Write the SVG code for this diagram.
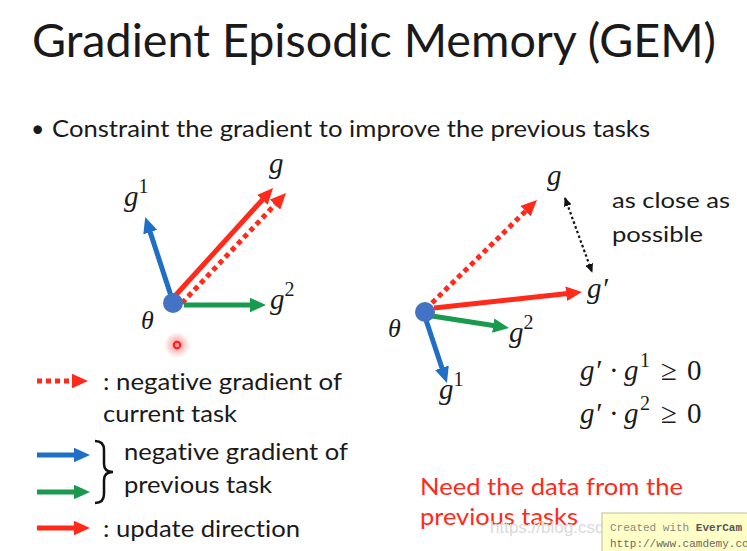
<svg xmlns="http://www.w3.org/2000/svg" width="747" height="551" viewBox="0 0 747 551">
<defs>
<style>
.sans{font-family:Lato,"Open Sans","Liberation Sans",sans-serif;fill:#1a1a1a;font-variant-ligatures:none;font-feature-settings:"liga" 0,"clig" 0}
.math{font-family:"Liberation Serif","DejaVu Serif",serif;font-style:italic;fill:#1a1a1a}
.up{font-family:"Liberation Serif","DejaVu Serif",serif;font-style:normal}
.red{stroke:#FF2A1A}
.blue{stroke:#1F6FC6}
.green{stroke:#1A9A4E}
.arr{stroke-width:5;fill:none}
.dot{stroke-dasharray:5 4}
.note{fill:#FF2A1A}
</style>
<marker id="hr" viewBox="0 0 10 10" refX="1" refY="5" markerWidth="3.2" markerHeight="2.9" orient="auto" preserveAspectRatio="none"><path d="M0,0 L10,5 L0,10 z" fill="#FF2A1A"/></marker>
<marker id="hb" viewBox="0 0 10 10" refX="1" refY="5" markerWidth="3.2" markerHeight="2.9" orient="auto" preserveAspectRatio="none"><path d="M0,0 L10,5 L0,10 z" fill="#1F6FC6"/></marker>
<marker id="hg" viewBox="0 0 10 10" refX="1" refY="5" markerWidth="3.2" markerHeight="2.9" orient="auto" preserveAspectRatio="none"><path d="M0,0 L10,5 L0,10 z" fill="#1A9A4E"/></marker>
<marker id="hk" viewBox="0 0 10 10" refX="9" refY="5" markerWidth="9" markerHeight="8" markerUnits="userSpaceOnUse" orient="auto-start-reverse" preserveAspectRatio="none"><path d="M0,0 L10,5 L0,10 z" fill="#111"/></marker>
<radialGradient id="glow"><stop offset="0" stop-color="#FF3030" stop-opacity="0.55"/><stop offset="1" stop-color="#FF3030" stop-opacity="0"/></radialGradient>
</defs>
<rect width="747" height="551" fill="#fff"/>

<text class="sans" x="32" y="57" font-size="47" textLength="684" lengthAdjust="spacingAndGlyphs">Gradient Episodic Memory (GEM)</text>
<text class="sans" x="31" y="137" font-size="23">•</text>
<text class="sans" x="52" y="137" font-size="24" textLength="598" lengthAdjust="spacingAndGlyphs">Constraint the gradient to improve the previous tasks</text>

<g id="connectors">
<line class="arr blue" x1="173" y1="302" x2="149.7" y2="230.6" marker-end="url(#hb)"/>
<line class="arr red" x1="174" y1="297" x2="263.4" y2="198.7" marker-end="url(#hr)"/>
<line class="arr red dot" x1="182" y1="303" x2="276.1" y2="203.5" marker-end="url(#hr)"/>
<line class="arr green" x1="184" y1="305" x2="251.6" y2="305" marker-end="url(#hg)"/>
<line class="arr red dot" x1="432" y1="303" x2="526.7" y2="210.1" marker-end="url(#hr)"/>
<line class="arr red" x1="434" y1="308" x2="567.7" y2="293.5" marker-end="url(#hr)"/>
<line class="arr green" x1="432" y1="316" x2="494.8" y2="325.8" marker-end="url(#hg)"/>
<line class="arr blue" x1="426" y1="320" x2="442.4" y2="369.3" marker-end="url(#hb)"/>
<line x1="565" y1="198" x2="592" y2="272" stroke="#111" stroke-width="2.2" stroke-dasharray="2.5 2.5" marker-start="url(#hk)" marker-end="url(#hk)"/>
</g>

<g id="node-left">
<circle cx="173" cy="303" r="10" fill="#4472C4"/>
<text class="math" x="141" y="329" font-size="26">θ</text>
<text class="math" x="124" y="206" font-size="29">g<tspan class="up" font-size="20" dy="-13">1</tspan></text>
<text class="math" x="269" y="173" font-size="29">g</text>
<text class="math" x="270" y="309" font-size="29">g<tspan class="up" font-size="20" dy="-13">2</tspan></text>
</g>

<g id="cursor">
<circle cx="177" cy="345" r="13" fill="url(#glow)"/>
<circle cx="177" cy="345" r="3.2" fill="none" stroke="#FF1A1A" stroke-width="2"/>
</g>

<g id="node-right">
<circle cx="425" cy="312" r="10" fill="#4472C4"/>
<text class="math" x="388" y="337" font-size="26">θ</text>
<text class="math" x="547" y="185" font-size="29">g</text>
<text class="math" x="587" y="298" font-size="29">g′</text>
<text class="math" x="509" y="342" font-size="29">g<tspan class="up" font-size="20" dy="-13">2</tspan></text>
<text class="math" x="439" y="399" font-size="29">g<tspan class="up" font-size="20" dy="-13">1</tspan></text>
<text class="sans" x="612" y="208" font-size="22" textLength="118" lengthAdjust="spacingAndGlyphs">as close as</text>
<text class="sans" x="612" y="242" font-size="22" textLength="91" lengthAdjust="spacingAndGlyphs">possible</text>
</g>

<g id="constraints">
<text class="math" y="380" font-size="29"><tspan x="580">g′</tspan><tspan class="up" x="609">·</tspan><tspan x="624">g</tspan><tspan class="up" x="640" font-size="20" dy="-13">1</tspan><tspan class="up" x="661" dy="13">≥</tspan><tspan class="up" x="687">0</tspan></text>
<text class="math" y="423" font-size="29"><tspan x="580">g′</tspan><tspan class="up" x="609">·</tspan><tspan x="624">g</tspan><tspan class="up" x="640" font-size="20" dy="-13">2</tspan><tspan class="up" x="661" dy="13">≥</tspan><tspan class="up" x="687">0</tspan></text>
</g>

<g id="legend">
<line class="arr red dot" x1="37" y1="381" x2="73.6" y2="381" marker-end="url(#hr)"/>
<text class="sans" x="103" y="390" font-size="23" textLength="239" lengthAdjust="spacingAndGlyphs">: negative gradient of</text>
<text class="sans" x="103" y="422" font-size="23" textLength="134" lengthAdjust="spacingAndGlyphs">current task</text>
<line class="arr blue" x1="37" y1="455" x2="75.6" y2="455" marker-end="url(#hb)"/>
<line class="arr green" x1="37" y1="492" x2="75.6" y2="492" marker-end="url(#hg)"/>
<path d="M95,441 Q104,441 104,450 L104,464 Q104,472 113,472 Q104,472 104,480 L104,494 Q104,503 95,503" fill="none" stroke="#111" stroke-width="2.5"/>
<text class="sans" x="124" y="460" font-size="23" textLength="224" lengthAdjust="spacingAndGlyphs">negative gradient of</text>
<text class="sans" x="124" y="493" font-size="23" textLength="148" lengthAdjust="spacingAndGlyphs">previous task</text>
<line class="arr red" x1="37" y1="528" x2="75.6" y2="528" marker-end="url(#hr)"/>
<text class="sans" x="103" y="537" font-size="23" textLength="197" lengthAdjust="spacingAndGlyphs">: update direction</text>
</g>

<g id="note">
<text class="sans note" x="420" y="495" font-size="23" textLength="263" lengthAdjust="spacingAndGlyphs">Need the data from the</text>
<text class="sans note" x="420" y="525" font-size="23" textLength="158" lengthAdjust="spacingAndGlyphs">previous tasks</text>
</g>

<g id="watermark">
<text x="490" y="533" font-family="Liberation Sans, sans-serif" font-size="17" fill="#DADADA">https://blog.csdn</text>
<rect x="602" y="513" width="150" height="45" fill="#FFFFC8" stroke="#BDBD9A" stroke-width="1"/>
<text x="610" y="531" font-family="Liberation Mono, monospace" font-size="11" fill="#8A8A80">Created with <tspan font-weight="bold" fill="#555">EverCam</tspan></text>
<text x="610" y="547" font-family="Liberation Mono, monospace" font-size="11" fill="#6A6A60">http://www.camdemy.com</text>
</g>
</svg>
